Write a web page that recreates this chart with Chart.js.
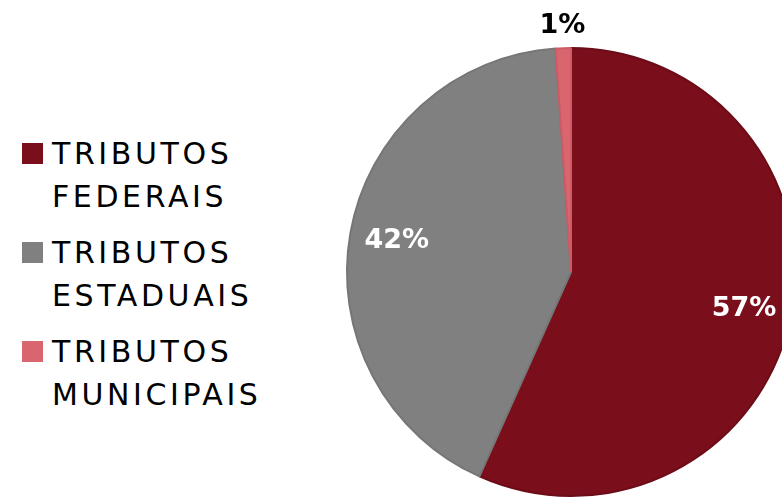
<!DOCTYPE html>
<html>
<head>
<meta charset="utf-8">
<script src="https://cdn.jsdelivr.net/npm/chart.js@4"></script>
<style>
  html, body { margin: 0; padding: 0; background: #fff; width: 782px; height: 498px; overflow: hidden; }
  #chartBox { position: absolute; left: 300px; top: 0; width: 542px; height: 498px; }
  #legend { position: absolute; left: 22px; top: 132px; font-family: "DejaVu Sans", sans-serif; }
  .item { display: flex; align-items: flex-start; margin-bottom: 13px; }
  .swatch { width: 21px; height: 21px; margin-top: 11px; margin-right: 9px; flex: none; }
  .text { font-size: 30px; line-height: 43px; color: #000; letter-spacing: 3.6px; }
</style>
</head>
<body>
<div id="legend"></div>
<div id="chartBox"><canvas id="pieChart"></canvas></div>
<script>
const categories = [["TRIBUTOS", "FEDERAIS"], ["TRIBUTOS", "ESTADUAIS"], ["TRIBUTOS", "MUNICIPAIS"]];
const shares = [56.7, 42.2, 1.1];
const colors = ["#7a0e1b", "#808080", "#d9656f"];
const borders = ["#6b0c17", "#767676", "#cc5b66"];

// legend in html, text wraps on two lines like the original
const legendBox = document.getElementById("legend");
categories.forEach((lines, i) => {
  const item = document.createElement("div");
  item.className = "item";
  item.innerHTML = `<div class="swatch" style="background:${colors[i]}"></div><div class="text">${lines.join("<br>")}</div>`;
  legendBox.appendChild(item);
});

// percentage labels: inside slices, or outside if slice is tiny
const pctLabels = {
  id: "pctLabels",
  afterDatasetsDraw(chart) {
    const ctx = chart.ctx;
    const meta = chart.getDatasetMeta(0);
    ctx.save();
    ctx.textAlign = "center";
    ctx.textBaseline = "middle";
    ctx.font = "bold 27px 'DejaVu Sans', sans-serif";
    meta.data.forEach((arc, i) => {
      const p = arc.getProps(["x", "y", "startAngle", "endAngle", "outerRadius"], true);
      const mid = (p.startAngle + p.endAngle) / 2;
      const small = shares[i] < 5;
      const dist = small ? p.outerRadius * 1.1 : p.outerRadius * 0.79;
      ctx.fillStyle = small ? "#000" : "#fff";
      ctx.fillText(Math.round(shares[i]) + "%", p.x + Math.cos(mid) * dist, p.y + Math.sin(mid) * dist);
    });
    ctx.restore();
  }
};

new Chart(document.getElementById("pieChart"), {
  type: "pie",
  data: {
    labels: categories.map(l => l.join(" ")),
    datasets: [{
      data: shares,
      backgroundColor: colors,
      borderColor: borders,
      borderWidth: 2
    }]
  },
  options: {
    responsive: true,
    maintainAspectRatio: false,
    animation: false,
    layout: { padding: { top: 47, bottom: 1, left: 46, right: 46 } },
    plugins: {
      legend: { display: false },
      tooltip: { enabled: false }
    }
  },
  plugins: [pctLabels]
});
</script>
</body>
</html>
